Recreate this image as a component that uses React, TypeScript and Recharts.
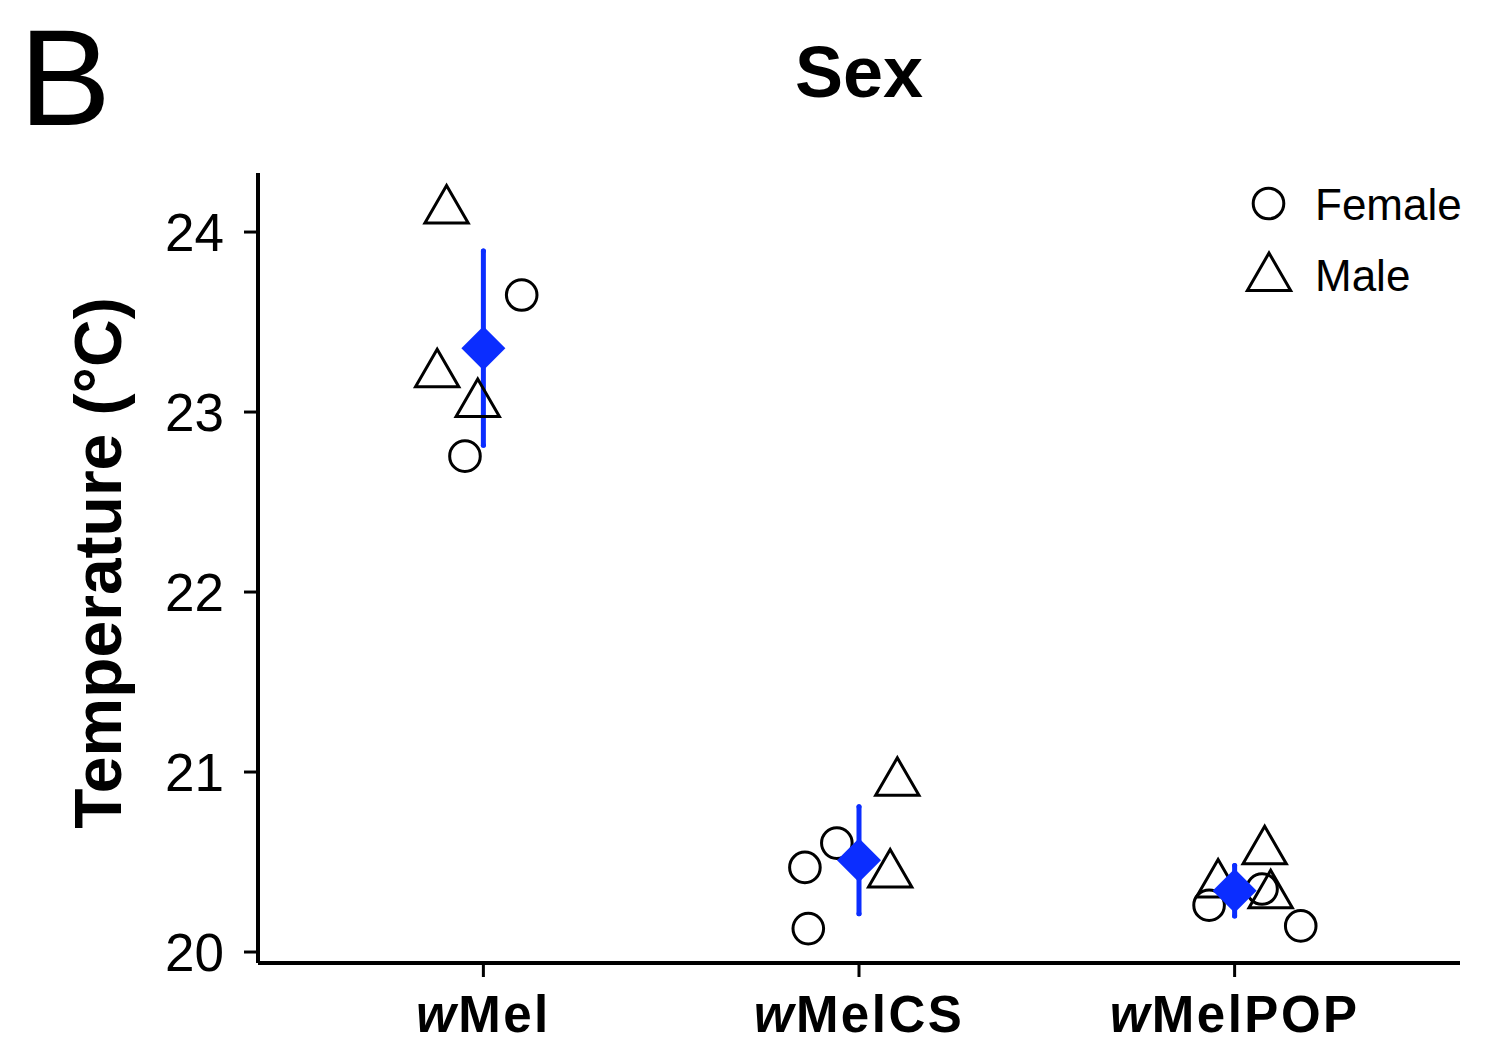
import React from "react";
import { ScatterChart, Scatter, XAxis, YAxis, ErrorBar, Legend } from "recharts";

const FONT = "'Liberation Sans', Arial, Helvetica, sans-serif";
const BLUE = "#0b2dff";

const categories = ["wMel", "wMelCS", "wMelPOP"];
const categoryPositions = [1, 2, 3];
const yTicks = [20, 21, 22, 23, 24];

const femalePoints = [
  { x: 1.102, y: 23.65 },
  { x: 0.951, y: 22.755 },
  { x: 1.941, y: 20.605 },
  { x: 1.856, y: 20.47 },
  { x: 1.865, y: 20.13 },
  { x: 2.932, y: 20.26 },
  { x: 3.073, y: 20.35 },
  { x: 3.176, y: 20.145 },
];

const malePoints = [
  { x: 0.902, y: 24.12 },
  { x: 0.877, y: 23.21 },
  { x: 0.985, y: 23.045 },
  { x: 2.102, y: 20.94 },
  { x: 2.083, y: 20.43 },
  { x: 3.08, y: 20.56 },
  { x: 2.956, y: 20.375 },
  { x: 3.096, y: 20.315 },
];

const meanValues = [23.355, 20.51, 20.34];
const meanErrors = [0.54, 0.297, 0.14];
const meanPoints = categoryPositions.map((x, i) => ({ x, y: meanValues[i], err: meanErrors[i] }));

const CircleShape = (props: any) => {
  const { cx, cy } = props;
  return <circle cx={cx} cy={cy} r={15.3} fill="none" stroke="#000" strokeWidth={3} />;
};

const triPath = (cx: number, cy: number, r: number) => {
  const h = r * Math.sqrt(3) / 2;
  return `M${cx},${cy - r} L${cx + h},${cy + r / 2} L${cx - h},${cy + r / 2} Z`;
};

const TriangleShape = (props: any) => {
  const { cx, cy } = props;
  return <path d={triPath(cx, cy, 25)} fill="none" stroke="#000" strokeWidth={3} strokeLinejoin="miter" />;
};

const DiamondShape = (props: any) => {
  const { cx, cy } = props;
  const d = 22;
  return <path d={`M${cx},${cy - d} L${cx + d},${cy} L${cx},${cy + d} L${cx - d},${cy} Z`} fill={BLUE} stroke="none" />;
};

const XTick = (props: any) => {
  const { x, y, payload } = props;
  const idx = Math.round(payload.value) - 1;
  const label = categories[idx] || "";
  return (
    <text x={x} y={y} dy="0.71em" textAnchor="middle" fontSize={51} fontWeight="bold" fontFamily={FONT} fill="#000" letterSpacing={2.5}>
      <tspan fontStyle="italic">{label.slice(0, 1)}</tspan>
      <tspan>{label.slice(1)}</tspan>
    </text>
  );
};

const LegendContent = () => (
  <svg width={250} height={140} style={{ display: "block", overflow: "visible" }}>
    <circle cx={28.5} cy={28.5} r={15.3} fill="none" stroke="#000" strokeWidth={3} />
    <text x={75} y={45} fontSize={44} fontFamily={FONT} fill="#000">Female</text>
    <path d={triPath(29, 103, 25)} fill="none" stroke="#000" strokeWidth={3} />
    <text x={75} y={116} fontSize={44} fontFamily={FONT} fill="#000">Male</text>
  </svg>
);

export default function App() {
  return (
    <div style={{ position: "absolute", left: 0, top: 0, width: 1493, height: 1042, background: "#fff" }}>
      <ScatterChart width={1493} height={1042} margin={{ top: 173, right: 33, bottom: 0, left: 0 }}>
        <XAxis
          type="number"
          dataKey="x"
          domain={[0.4, 3.6]}
          ticks={categoryPositions}
          allowDataOverflow
          height={79}
          tickSize={14}
          tickMargin={18.5}
          axisLine={{ stroke: "#000", strokeWidth: 4 }}
          tickLine={{ stroke: "#000", strokeWidth: 3 }}
          tick={<XTick />}
          interval={0}
        />
        <YAxis
          type="number"
          dataKey="y"
          domain={[19.939, 24.328]}
          ticks={yTicks}
          allowDataOverflow
          width={258}
          tickSize={14}
          tickMargin={20}
          axisLine={{ stroke: "#000", strokeWidth: 4 }}
          tickLine={{ stroke: "#000", strokeWidth: 3 }}
          tick={{ fill: "#000", fontSize: 53, fontFamily: FONT }}
          interval={0}
        />
        <Legend
          layout="vertical"
          align="center"
          verticalAlign="middle"
          content={<LegendContent />}
          wrapperStyle={{ position: "absolute", top: 175, left: 1240, width: 250, height: 140 }}
        />
        <Scatter name="Female" data={femalePoints} shape={<CircleShape />} isAnimationActive={false} />
        <Scatter name="Male" data={malePoints} shape={<TriangleShape />} isAnimationActive={false} />
        <Scatter name="Mean" data={meanPoints} shape={<DiamondShape />} isAnimationActive={false} legendType="none">
          <ErrorBar dataKey="err" direction="y" width={0} stroke={BLUE} strokeWidth={5} strokeLinecap="round" isAnimationActive={false} />
        </Scatter>
      </ScatterChart>
      <svg width={1493} height={1042} style={{ position: "absolute", left: 0, top: 0, pointerEvents: "none" }}>
        <text x={19} y={125} fontSize={138} fontFamily={FONT} fill="#000">B</text>
        <text x={859} y={97} fontSize={72} fontWeight="bold" fontFamily={FONT} fill="#000" textAnchor="middle">Sex</text>
        <text x={121} y={563} fontSize={66} fontWeight="bold" fontFamily={FONT} fill="#000" textAnchor="middle" transform="rotate(-90 121 563)">Temperature (°C)</text>
      </svg>
    </div>
  );
}
